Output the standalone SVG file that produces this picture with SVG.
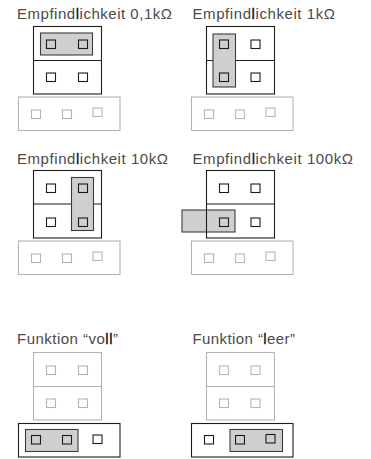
<svg xmlns="http://www.w3.org/2000/svg" width="371" height="459" viewBox="0 0 371 459">
<style>
text{font-family:"Liberation Sans",Arial,sans-serif;font-size:15px;fill:#4a4a4a}
tspan{fill:#111;stroke:#111;stroke-width:.3}
.k,.g{fill:#fff;stroke-width:1.1}
.k{stroke:#1c1c1c}
.g{stroke:#b4b4b4}
.j{fill:#cfcfcf;stroke:#3c3c3c;stroke-width:1.1}
.n{fill:none}
.l{fill:none;stroke-width:1.1}
.lk{stroke:#1c1c1c}
.lg{stroke:#b4b4b4}
</style>
<rect width="371" height="459" fill="#fff"/>
<g id="panel-01">
<text x="17" y="19" textLength="155">Empfind<tspan>l</tspan>ichkeit 0,1kΩ</text>
<rect class="k" x="33.5" y="26.5" width="68" height="67.5"/><path class="l lk" d="M33.5 60.500H101.500"/>
<rect class="j" x="40.500" y="33" width="52" height="22"/>
<rect class="k n" x="46.500" y="40" width="9" height="8.500"/><rect class="k n" x="78.500" y="40" width="9" height="8.500"/>
<rect class="k" x="46.500" y="73" width="9" height="8.500"/><rect class="k" x="78.500" y="73" width="9" height="8.500"/>
<rect class="g" x="18.500" y="97" width="101.500" height="33.500"/>
<rect class="g" x="31.500" y="110" width="9" height="8.500"/><rect class="g" x="62.500" y="110" width="9" height="8.500"/><rect class="g" x="93" y="108" width="9" height="8.500"/>
</g>
<g id="panel-02">
<text x="192.500" y="19" textLength="142.500">Empfind<tspan>l</tspan>ichkeit 1kΩ</text>
<rect class="k" x="206.500" y="26.500" width="68" height="67.500"/><path class="l lk" d="M206.500 60.500H274.500"/>
<rect class="j" x="213" y="34" width="22.500" height="53"/>
<rect class="k n" x="219.500" y="40" width="9" height="8.500"/><rect class="k" x="251" y="40" width="9" height="8.500"/>
<rect class="k n" x="219.500" y="73" width="9" height="8.500"/><rect class="k" x="251" y="73" width="9" height="8.500"/>
<rect class="g" x="191.500" y="97" width="101.500" height="33.500"/>
<rect class="g" x="204.500" y="110" width="9" height="8.500"/><rect class="g" x="235.500" y="110" width="9" height="8.500"/><rect class="g" x="266" y="108" width="9" height="8.500"/>
</g>
<g id="panel-03">
<text x="17" y="163.500" textLength="151">Empfind<tspan>l</tspan>ichkeit 10kΩ</text>
<rect class="k" x="33.500" y="170.500" width="68" height="67.500"/><path class="l lk" d="M33.500 204H101.500"/>
<rect class="j" x="71.500" y="177.500" width="22" height="53"/>
<rect class="k" x="46.500" y="184" width="9" height="8.500"/><rect class="k n" x="78.500" y="184" width="9" height="8.500"/>
<rect class="k" x="46.500" y="218" width="9" height="8.500"/><rect class="k n" x="78.500" y="218" width="9" height="8.500"/>
<rect class="g" x="18.500" y="241" width="101.500" height="33.500"/>
<rect class="g" x="31.500" y="254" width="9" height="8.500"/><rect class="g" x="62.500" y="254" width="9" height="8.500"/><rect class="g" x="93" y="252" width="9" height="8.500"/>
</g>
<g id="panel-04">
<text x="192.500" y="163.500" textLength="160.500">Empfind<tspan>l</tspan>ichkeit 100kΩ</text>
<rect class="j" x="182" y="210" width="53" height="22"/>
<rect class="k n" x="206.500" y="170.500" width="68" height="67.500"/><path class="l lk" d="M206.500 204H274.500"/>
<rect class="k" x="219.500" y="184" width="9" height="8.500"/><rect class="k" x="251" y="184" width="9" height="8.500"/>
<rect class="k n" x="219.500" y="218" width="9" height="8.500"/><rect class="k" x="251" y="218" width="9" height="8.500"/>
<rect class="g" x="191.500" y="241" width="101.500" height="33.500"/>
<rect class="g" x="204.500" y="254" width="9" height="8.500"/><rect class="g" x="235.500" y="254" width="9" height="8.500"/><rect class="g" x="266" y="252" width="9" height="8.500"/>
</g>
<g id="panel-05">
<text x="17" y="344" textLength="101">Funktion “vo<tspan>ll</tspan>”</text>
<rect class="g" x="33.500" y="352.500" width="68" height="67.500"/><path class="l lg" d="M33.500 386.500H101.500"/>
<rect class="g" x="46.500" y="366" width="9" height="8.500"/><rect class="g" x="78.500" y="366" width="9" height="8.500"/>
<rect class="g" x="46.500" y="399" width="9" height="8.500"/><rect class="g" x="78.500" y="399" width="9" height="8.500"/>
<rect class="k" x="18.500" y="423.500" width="101.500" height="33.500"/>
<rect class="j" x="25.500" y="429.500" width="52.500" height="22"/>
<rect class="k n" x="31.500" y="435.500" width="9" height="8.500"/><rect class="k n" x="62.500" y="435.500" width="9" height="8.500"/><rect class="k" x="93" y="435" width="9" height="8.500"/>
</g>
<g id="panel-06">
<text x="192.500" y="344" textLength="102.500">Funktion “<tspan>l</tspan>eer”</text>
<rect class="g" x="206.500" y="352.500" width="68" height="67.500"/><path class="l lg" d="M206.500 386.500H274.500"/>
<rect class="g" x="219.500" y="366" width="9" height="8.500"/><rect class="g" x="251" y="366" width="9" height="8.500"/>
<rect class="g" x="219.500" y="399" width="9" height="8.500"/><rect class="g" x="251" y="399" width="9" height="8.500"/>
<rect class="k" x="191.500" y="423.500" width="101.500" height="33.500"/>
<rect class="j" x="230" y="429.500" width="52.500" height="22"/>
<rect class="k" x="204.500" y="435.500" width="9" height="8.500"/><rect class="k n" x="235.500" y="435.500" width="9" height="8.500"/><rect class="k n" x="266" y="434.500" width="9" height="8.500"/>
</g>
</svg>
